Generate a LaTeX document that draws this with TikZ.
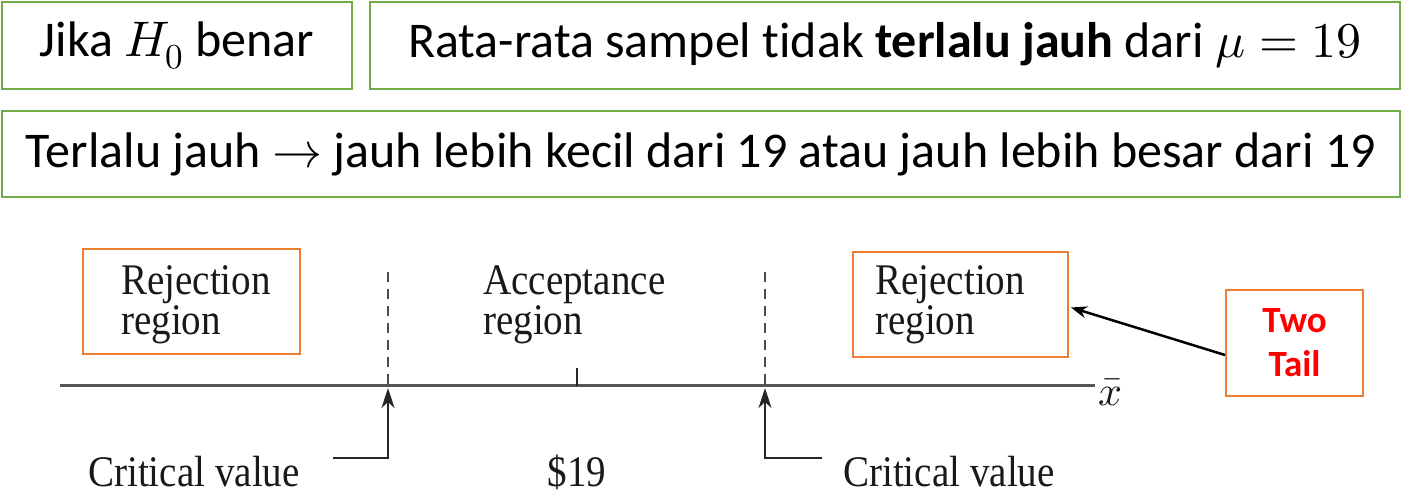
\documentclass[tikz,border=0pt]{standalone}
\usepackage{fontspec}
\usepackage{unicode-math}
\setmainfont{Carlito}[Ligatures=NoCommon]
\setmathfont{Latin Modern Math}
\newfontfamily\tnr{Liberation Serif}
\usetikzlibrary{arrows.meta,calc}
\definecolor{gboxc}{HTML}{70AD47}
\definecolor{oboxc}{HTML}{ED7D31}
\definecolor{axisc}{HTML}{555555}
\newcommand{\fig}[1]{\scalebox{0.93}[1.04]{#1}}
\tikzset{
  gbox/.style={draw=gboxc, line width=2.5pt, inner sep=0pt, font=\fontsize{50}{60}\selectfont},
  obox/.style={draw=oboxc, line width=2pt, inner sep=0pt},
  figtxt/.style={font=\tnr\fontsize{42}{40}\selectfont, text=black!90, inner sep=0pt, align=left},
  axisline/.style={draw=axisc, line width=3pt},
  dashline/.style={draw=black!70, line width=2pt, dash pattern=on 10pt off 7pt},
  critline/.style={draw=black!85, line width=2.2pt},
}
\begin{document}
\begin{tikzpicture}[x=1pt,y=-1pt]
\useasboundingbox (0,0) rectangle (1403,502);
% top boxes
\node[gbox, minimum width=350, minimum height=87] (b1) at (177,45.5) {Jika $H_0$ benar};
\node[gbox, minimum width=1030, minimum height=87] (b2) at (885,45.5) {Rata-rata sampel tidak \textbf{terlalu jauh} dari $\mu = 19$};
\node[gbox, minimum width=1398, minimum height=86] (b3) at (701,154) {Terlalu jauh $\rightarrow$ jauh lebih kecil dari 19 atau jauh lebih besar dari 19};
% axis
\coordinate (axL) at (60,386);
\coordinate (axR) at (1095,386);
\draw[axisline] (axL) -- (axR);
\node[figtxt, anchor=west] (xbar) at (1098,392) {$\bar{x}$};
% tick
\coordinate (tk1) at (577,368);
\coordinate (tk2) at (577,386);
\draw[critline] (tk1) -- (tk2);
% dashed lines
\coordinate (d1t) at (388,272);
\coordinate (d1b) at (388,386);
\coordinate (d2t) at (765,272);
\coordinate (d2b) at (765,386);
\draw[dashline] (d1t) -- (d1b);
\draw[dashline] (d2t) -- (d2b);
% region texts
\node[obox, minimum width=217, minimum height=105] (rb1) at (191.5,301.5) {};
\node[figtxt, anchor=west] (rej1) at (121,305) {\fig{Rejection}\\\fig{region}};
\node[figtxt, anchor=west] (acc) at (483,305) {\fig{Acceptance}\\\fig{region}};
\node[obox, minimum width=215, minimum height=105] (rb2) at (960.5,304.5) {};
\node[figtxt, anchor=west] (rej2) at (875,305) {\fig{Rejection}\\\fig{region}};
% critical values
\node[figtxt, anchor=west] (cv1) at (88,472) {\fig{Critical value}};
\node[figtxt] (p19) at (577,472) {\fig{\$19}};
\node[figtxt, anchor=west] (cv2) at (843,472) {\fig{Critical value}};
\coordinate (c1a) at (333,458);
\coordinate (c1b) at (388,458);
\coordinate (c1c) at (388,388);
\coordinate (c2a) at (822,458);
\coordinate (c2b) at (765,458);
\coordinate (c2c) at (765,388);
\draw[critline, -{Stealth[length=20pt,width=13pt,inset=6pt]}] (c1a) -- (c1b) -- (c1c);
\draw[critline, -{Stealth[length=20pt,width=13pt,inset=6pt]}] (c2a) -- (c2b) -- (c2c);
% two tail
\node[obox, minimum width=137, minimum height=106, align=center, text=red, font=\bfseries\fontsize{37}{44}\selectfont] (tt) at (1294.5,343) {Two\\Tail};
\draw[line width=2.5pt, -{Stealth[length=16pt,width=12pt]}] ($(tt.west)+(0,12)$) -- ($(rb2.east)+(2,3)$);
\end{tikzpicture}
\end{document}
